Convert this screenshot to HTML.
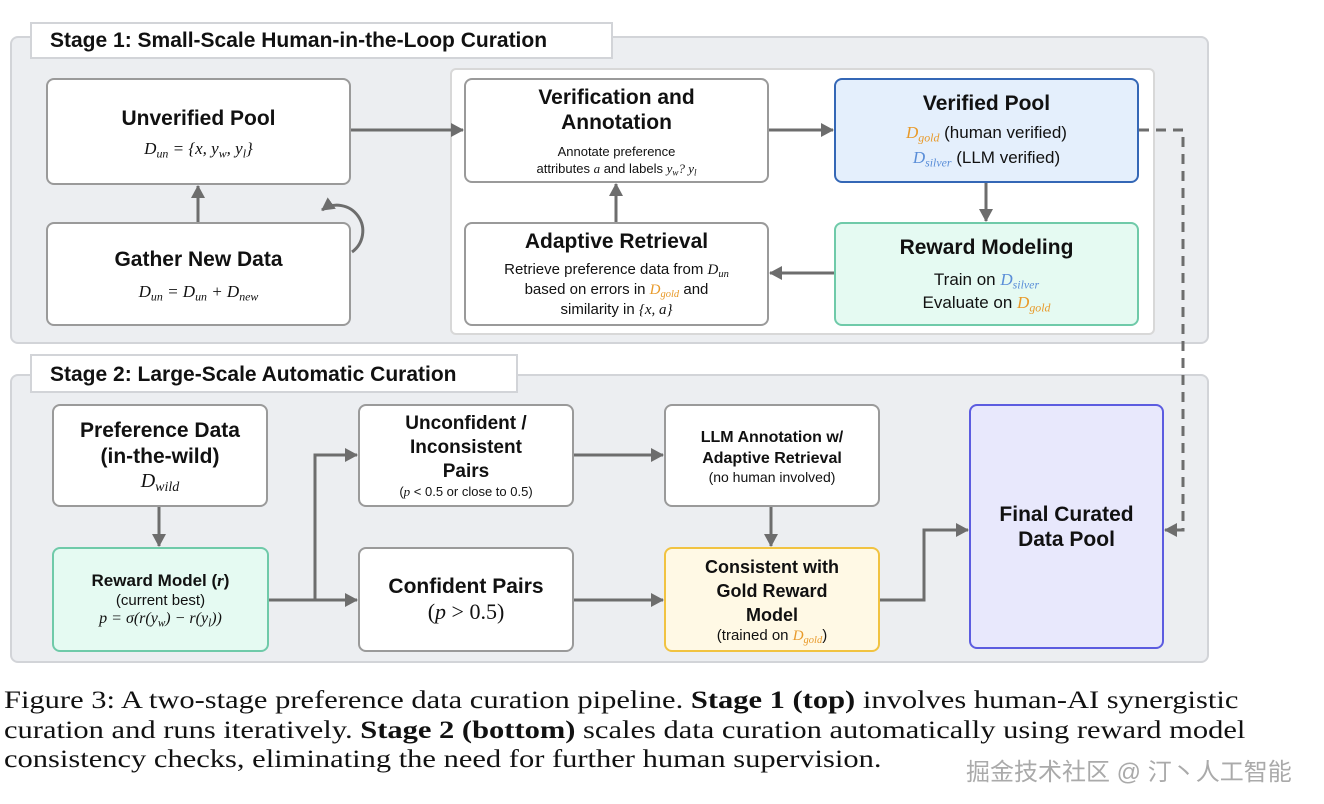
<!DOCTYPE html>
<html><head><meta charset="utf-8"><style>
body{margin:0;width:1324px;height:804px;background:#fff;position:relative;overflow:hidden;font-family:"Liberation Sans",Arial,sans-serif;}
.a{position:absolute;box-sizing:border-box;}
.panel{background:#eceef1;border:2px solid #d2d4d8;border-radius:8px;}
.title{background:#fff;border:2px solid #d2d4d8;font-weight:bold;font-size:21px;padding-left:18px;line-height:34px;color:#111;}
.box{background:#fff;border:2.5px solid #9a9a9a;border-radius:8px;text-align:center;color:#111;display:flex;flex-direction:column;justify-content:center;align-items:center;}
.h{font-weight:bold;font-size:21px;line-height:25px;}
.s{font-size:15px;line-height:19px;}
.m{font-family:"Liberation Serif",serif;font-style:italic;}
.g{color:#e89a2a;font-family:"Liberation Serif",serif;font-style:italic;}
.sv{color:#5a8ed8;font-family:"Liberation Serif",serif;font-style:italic;}
sub{font-size:70%;vertical-align:-0.3em;line-height:0;}
.cap{font-family:"Liberation Serif",serif;font-size:25px;line-height:29.5px;color:#111;transform:scaleX(1.22);transform-origin:0 0;white-space:nowrap;}
</style></head><body>
<div class="a panel" style="left:10px;top:36px;width:1199px;height:308px"></div>
<div class="a title" style="left:30px;top:22px;width:583px;height:37px">Stage 1: Small-Scale Human-in-the-Loop Curation</div>
<div class="a" style="left:450px;top:68px;width:705px;height:267px;background:#fff;border:2px solid #d8d8d8;border-radius:6px"></div>

<div class="a box" style="left:46px;top:78px;width:305px;height:107px"><div class="h">Unverified Pool</div><div class="s m" style="font-size:17px;margin-top:8px">D<sub>un</sub> = {x, y<sub>w</sub>, y<sub>l</sub>}</div></div>
<div class="a box" style="left:46px;top:222px;width:305px;height:104px"><div class="h">Gather New Data</div><div class="s m" style="font-size:17px;margin-top:10px">D<sub>un</sub> = D<sub>un</sub> + D<sub>new</sub></div></div>
<div class="a box" style="left:464px;top:78px;width:305px;height:105px"><div class="h">Verification and<br>Annotation</div><div class="s" style="font-size:13px;line-height:17px;margin-top:8px">Annotate preference<br>attributes <span class="m">a</span> and labels <span class="m">y<sub>w</sub>? y<sub>l</sub></span></div></div>
<div class="a box" style="left:834px;top:78px;width:305px;height:105px;background:#e4effc;border-color:#3467b6"><div class="h">Verified Pool</div><div class="s" style="font-size:17px;line-height:25px;margin-top:4px"><span class="g">D<sub>gold</sub></span> (human verified)<br><span class="sv">D<sub>silver</sub></span> (LLM verified)</div></div>
<div class="a box" style="left:464px;top:222px;width:305px;height:104px"><div class="h">Adaptive Retrieval</div><div class="s" style="line-height:20px;margin-top:6px">Retrieve preference data from <span class="m">D<sub>un</sub></span><br>based on errors in <span class="g">D<sub>gold</sub></span> and<br>similarity in <span class="m">{x, a}</span></div></div>
<div class="a box" style="left:834px;top:222px;width:305px;height:104px;background:#e5faf2;border-color:#6fcaa9"><div class="h">Reward Modeling</div><div class="s" style="font-size:17px;line-height:23px;margin-top:8px">Train on <span class="sv">D<sub>silver</sub></span><br>Evaluate on <span class="g">D<sub>gold</sub></span></div></div>

<div class="a panel" style="left:10px;top:374px;width:1199px;height:289px"></div>
<div class="a title" style="left:30px;top:354px;width:488px;height:39px;line-height:37px">Stage 2: Large-Scale Automatic Curation</div>

<div class="a box" style="left:52px;top:404px;width:216px;height:103px"><div class="h" style="line-height:26px">Preference Data<br>(in-the-wild)</div><div class="m" style="font-size:20px">D<sub>wild</sub></div></div>
<div class="a box" style="left:52px;top:547px;width:217px;height:105px;background:#e5faf2;border-color:#6fcaa9"><div style="font-weight:bold;font-size:17px">Reward Model (<span class="m">r</span>)</div><div class="s" style="font-size:15px">(current best)</div><div class="m" style="font-size:16px">p = σ(r(y<sub>w</sub>) − r(y<sub>l</sub>))</div></div>
<div class="a box" style="left:358px;top:404px;width:216px;height:103px"><div class="h" style="font-size:19px;line-height:24px">Unconfident /<br>Inconsistent<br>Pairs</div><div style="font-size:13px">(<span class="m">p</span> &lt; 0.5 or close to 0.5)</div></div>
<div class="a box" style="left:358px;top:547px;width:216px;height:105px"><div class="h">Confident Pairs</div><div style="font-family:'Liberation Serif',serif;font-size:22px">(<i>p</i> &gt; 0.5)</div></div>
<div class="a box" style="left:664px;top:404px;width:216px;height:103px"><div style="font-weight:bold;font-size:16px;line-height:21px">LLM Annotation w/<br>Adaptive Retrieval</div><div style="font-size:14px">(no human involved)</div></div>
<div class="a box" style="left:664px;top:547px;width:216px;height:105px;background:#fff9e5;border-color:#f1c341"><div style="font-weight:bold;font-size:18px;line-height:24px">Consistent with<br>Gold Reward<br>Model</div><div style="font-size:15px">(trained on <span class="g">D<sub>gold</sub></span>)</div></div>
<div class="a box" style="left:969px;top:404px;width:195px;height:245px;background:#e8e8fc;border-color:#5c5ce0"><div class="h">Final Curated<br>Data Pool</div></div>

<svg class="a" style="left:0;top:0" width="1324" height="804">
<defs><marker id="ar2" markerWidth="14" markerHeight="14" refX="12" refY="7" orient="auto" markerUnits="userSpaceOnUse"><path d="M0,0 L13,7 L0,14 z" fill="#6d6d6d"/></marker></defs>
<g stroke="#6d6d6d" stroke-width="3" fill="none" marker-end="url(#ar2)">
<path d="M351,130 H463"/><path d="M769,130 H833"/><path d="M986,183 V221"/><path d="M834,273 H770"/><path d="M616,222 V184"/><path d="M198,222 V186"/>
<path d="M159,507 V546"/><path d="M269,600 H357"/><path d="M315,600 V455 H357"/><path d="M574,455 H663"/><path d="M771,507 V546"/><path d="M574,600 H663"/><path d="M880,600 H924 V530 H968"/>
<path d="M1139,130 H1183 V530 H1165" stroke-dasharray="10,7"/>
<path d="M352,252 A24,24 0 1 0 322,210"/>
</g></svg>

<div class="a cap" style="left:4px;top:686px">Figure 3: A two-stage preference data curation pipeline. <b>Stage 1 (top)</b> involves human-AI synergistic<br>curation and runs iteratively. <b>Stage 2 (bottom)</b> scales data curation automatically using reward model<br>consistency checks, eliminating the need for further human supervision.</div>
<div class="a" style="left:966px;top:752px;font-size:24px;color:#aaa;font-family:'Liberation Sans','Noto Sans CJK SC',sans-serif;white-space:nowrap">掘金技术社区 @ 汀丶人工智能</div>
</body></html>
